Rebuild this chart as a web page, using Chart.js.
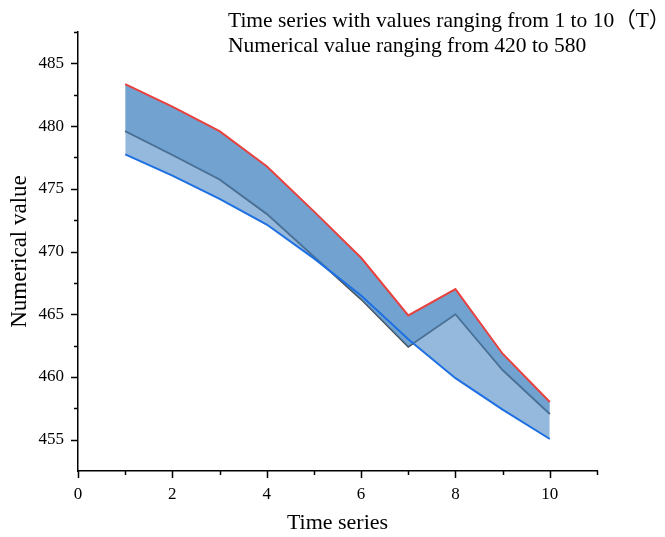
<!DOCTYPE html>
<html>
<head>
<meta charset="utf-8">
<script src="https://cdn.jsdelivr.net/npm/chart.js@4.4.1/dist/chart.umd.min.js"></script>
<style>
  html, body { margin: 0; padding: 0; background: #fff; }
  canvas { display: block; }
</style>
</head>
<body>
<canvas id="c" width="665" height="537"></canvas>
<script>
// ---- data ----
const xValues = [1, 2, 3, 4, 5, 6, 7, 8, 9, 10];
const upperValues  = [483.35, 481.55, 479.6, 476.8, 473.2, 469.5, 464.9, 467.0, 461.85, 458.0];
const middleValues = [479.6, 477.7, 475.75, 473.0, 469.6, 466.2, 462.4, 465.0, 460.55, 457.05];
const lowerValues  = [477.75, 476.05, 474.2, 472.15, 469.45, 466.5, 463.0, 459.9, 457.4, 455.05];

const xTickValues = [0, 2, 4, 6, 8, 10];
const xMinorTickValues = [1, 3, 5, 7, 9, 11];
const yTickValues = [455, 460, 465, 470, 475, 480, 485];
const yMinorTickValues = [457.5, 462.5, 467.5, 472.5, 477.5, 482.5, 487.5];

const titleLines = ['Time series with values ranging from 1 to 10（T）', 'Numerical value ranging from 420 to 580'];
const xTitle = 'Time series';
const yTitle = 'Numerical value';

// ---- helpers ----
const toPoints = vals => vals.map((v, i) => ({ x: xValues[i], y: v }));
const SERIF = '"Liberation Serif", "Times New Roman", "Noto Sans CJK SC", serif';

const tickMarks = {
  id: 'tickMarks',
  afterDraw(chart) {
    const ctx = chart.ctx, xs = chart.scales.x, ys = chart.scales.y, a = chart.chartArea;
    ctx.save();
    ctx.strokeStyle = '#000';
    ctx.lineWidth = 1.5;
    const dx = (v, len) => { const p = Math.round(xs.getPixelForValue(v)) + 0.5; ctx.beginPath(); ctx.moveTo(p, a.bottom); ctx.lineTo(p, a.bottom + len); ctx.stroke(); };
    const dy = (v, len) => { const p = Math.round(ys.getPixelForValue(v)) + 0.5; ctx.beginPath(); ctx.moveTo(a.left, p); ctx.lineTo(a.left - len, p); ctx.stroke(); };
    xTickValues.forEach(v => dx(v, 7));
    xMinorTickValues.forEach(v => dx(v, 4));
    yTickValues.forEach(v => dy(v, 7));
    yMinorTickValues.forEach(v => dy(v, 4));
    ctx.restore();
  }
};

const titleText = {
  id: 'titleText',
  afterDraw(chart) {
    const ctx = chart.ctx;
    ctx.save();
    ctx.fillStyle = '#000';
    ctx.font = '21.5px ' + SERIF;
    ctx.textBaseline = 'middle';
    ctx.textAlign = 'left';
    titleLines.forEach((t, i) => ctx.fillText(t, 228, 21 + i * 25));
    ctx.restore();
  }
};

const fillColorDark = 'rgba(78,139,196,0.8)';
const fillColorLight = 'rgba(78,139,196,0.6)';

new Chart(document.getElementById('c'), {
  type: 'line',
  data: {
    datasets: [
      { label: 'upper', data: toPoints(upperValues), borderColor: '#e8423f', borderWidth: 2, pointRadius: 0, fill: false, order: 1 },
      { label: 'middle', data: toPoints(middleValues), borderColor: '#474747', borderWidth: 2, pointRadius: 0, fill: false, order: 3 },
      { label: 'lower', data: toPoints(lowerValues), borderColor: '#1e6fe2', borderWidth: 2, pointRadius: 0, fill: false, order: 0 },
      { label: 'bandUpper', data: toPoints(upperValues), borderWidth: 0, borderColor: 'transparent', pointRadius: 0,
        fill: { target: 1, above: fillColorDark, below: fillColorDark }, order: 2 },
      { label: 'bandLower', data: toPoints(middleValues), borderWidth: 0, borderColor: 'transparent', pointRadius: 0,
        fill: { target: 2, above: fillColorLight, below: 'rgba(0,0,0,0)' }, order: 2 }
    ]
  },
  options: {
    responsive: false,
    animation: false,
    layout: { padding: { top: 32, right: 68, left: 0, bottom: 0 } },
    plugins: {
      legend: { display: false },
      tooltip: { enabled: false },
      title: { display: false }
    },
    elements: { line: { tension: 0 } },
    scales: {
      x: {
        type: 'linear',
        min: 0, max: 11,
        afterBuildTicks: s => { s.ticks = xTickValues.map(v => ({ value: v })); },
        afterFit: s => { s.height = 66; },
        grid: { display: true, drawOnChartArea: false, drawTicks: true, tickLength: 7, color: 'rgba(0,0,0,0)', tickColor: 'rgba(0,0,0,0)' },
        border: { display: true, color: '#000', width: 1.5 },
        ticks: { color: '#000', padding: 6, font: { family: SERIF, size: 17 }, maxRotation: 0, autoSkip: false },
        title: { display: true, text: xTitle, color: '#000', font: { family: SERIF, size: 22 }, padding: { top: 0, bottom: 1 } }
      },
      y: {
        type: 'linear',
        min: 452.5, max: 487.5,
        afterBuildTicks: s => { s.ticks = yTickValues.map(v => ({ value: v })); },
        afterFit: s => { s.width = 78; },
        grid: { display: true, drawOnChartArea: false, drawTicks: true, tickLength: 7, color: 'rgba(0,0,0,0)', tickColor: 'rgba(0,0,0,0)' },
        border: { display: true, color: '#000', width: 1.5 },
        ticks: { color: '#000', padding: 7, font: { family: SERIF, size: 17 }, autoSkip: false },
        title: { display: true, text: yTitle, color: '#000', font: { family: SERIF, size: 23 }, padding: { top: 6, bottom: 0 } }
      }
    }
  },
  plugins: [tickMarks, titleText]
});
</script>
</body>
</html>
